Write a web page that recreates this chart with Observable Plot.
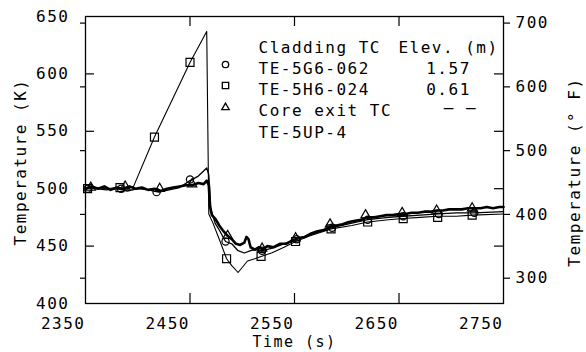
<!DOCTYPE html>
<html><head><meta charset="utf-8">
<script src="https://cdn.jsdelivr.net/npm/d3@7"></script>
<script src="https://cdn.jsdelivr.net/npm/@observablehq/plot@0.6"></script>
<style>
html,body{margin:0;padding:0;background:#fff;}
#chart svg{display:block;}
</style></head><body><div id="chart"></div>
<script>
// ---- data ----
// Core exit TC TE-5UP-4 (triangles) — dense, noisy trace
const coreTime = [2350,2356,2362,2368,2374,2380,2386,2392,2398,2404,2410,2416,2422,2428,2434,2440,2446,2452,2458,2463,2466,2468,2469,2471,2474,2478,2482,2486,2490,2494,2498,2502,2504,2506,2508,2512,2516,2520,2524,2530,2536,2542,2548,2554,2560,2566,2572,2578,2584,2590,2596,2602,2608,2614,2620,2626,2632,2638,2644,2650,2656,2662,2668,2674,2680,2686,2692,2698,2704,2710,2716,2722,2728,2734,2740,2746,2750];
const coreTemp = [500,502,500,502,499,501,500,502,500,501,499,500,498,500,501,502,503,503,505,504,507,503,485,477,474,468,463,459,456,452,451,453,458,456,449,447,449,447,450,449,452,452,455,457,458,461,463,464,467,468,469,471,472,473,475,475,476,477,477,478,478,479,479,480,480,481,481,482,482,482,483,483,483,484,483,484,484];
// Cladding TC TE-5G6-062, 1.57 m (circles)
const g6Time = [2350,2360,2370,2380,2390,2400,2410,2420,2430,2440,2450,2458,2466,2468,2470,2474,2478,2484,2490,2496,2502,2508,2514,2519,2528,2540,2552,2565,2586,2605,2620,2640,2654,2670,2688,2705,2722,2750];
const g6Temp = [501,500,499,500,498,500,499,497,499,501,507,511,518,512,482,470,464,454,452,446,444,446,447,446,448,452,456,460,466,470,473,475,476,477,478,479,479,480];
// Cladding TC TE-5H6-024, 0.61 m (squares)
const h6Time = [2350,2360,2370,2380,2390,2396,2416,2450,2466,2468,2472,2478,2485,2490,2496,2505,2512,2518,2528,2540,2551,2565,2585,2605,2620,2640,2654,2670,2687,2705,2720,2750];
const h6Temp = [500,501,500,501,500,502,545,610,637,478,470,456,439,433,427,437,439,441,444,449,454,459,465,468,471,473,474,475,476,476,477,478];
// marker positions
const g6MarkT = [2352,2384,2418,2450,2484,2519,2552,2586,2620,2654,2688,2722];
const g6MarkV = [500,500,497,508,454,446,456,466,473,476,478,479];
const h6MarkT = [2352,2383,2416,2450,2485,2518,2551,2585,2620,2654,2687,2720];
const h6MarkV = [500,501,545,610,439,441,454,465,471,474,475,477];
const coreMarkT = [2355,2388,2421,2452,2486,2519,2551,2584,2618,2653,2686,2720];
const coreMarkV = [501,502,500,504,459,448,457,469,477,479,481,483];
// axes
const xLabels = [2350,2450,2550,2650,2750];
const xInnerTicks = [2450,2550,2650];
const kLabels = [400,450,500,550,600,650];
const kInnerTicks = [450,500,550,600];
const fLabels = [300,400,500,600,700];
// legend
const legendNames = ["Cladding TC","TE-5G6-062","TE-5H6-024","Core exit TC","TE-5UP-4"];
const legendElev = ["Elev. (m)","1.57","0.61"];
const legendSymbols = ["circle","square","triangle"];

const toK = f => (f + 459.67) * 5 / 9;
const toF = k => Math.round(k * 9 / 5 - 459.67);
const zip = (t, v) => t.map((d, i) => ({t: d, v: v[i]}));

const core = zip(coreTime, coreTemp), g6 = zip(g6Time, g6Temp), h6 = zip(h6Time, h6Temp);
const g6M = zip(g6MarkT, g6MarkV), h6M = zip(h6MarkT, h6MarkV), coreM = zip(coreMarkT, coreMarkV);

const font = "DejaVu Sans Mono";
const legendDy = [48, 69, 91];
const W = 586, H = 352, ML = 85, MR = 83, MT = 16, MB = 49;
const fw = W - ML - MR, fh = H - MT - MB;
const tickIn = 9, tickInX = 10;

const chart = Plot.plot({
  width: W, height: H,
  marginLeft: ML, marginRight: MR, marginTop: MT, marginBottom: MB,
  style: {fontFamily: font, fontSize: "16px", letterSpacing: "1.5px", color: "black", background: "white", overflow: "visible"},
  x: {domain: [2350, 2750]},
  y: {domain: [400, 650]},
  marks: [
    Plot.frame({stroke: "black", strokeWidth: 1.3}),
    // inward K ticks on both sides
    Plot.tickY(kInnerTicks, {y: d => d, insetRight: fw - tickIn, stroke: "black", strokeWidth: 1.2}),
    Plot.tickY(kInnerTicks, {y: d => d, insetLeft: fw - tickIn, stroke: "black", strokeWidth: 1.2}),
    // inward time ticks top & bottom
    Plot.tickX(xInnerTicks, {x: d => d, insetBottom: fh - tickInX, stroke: "black", strokeWidth: 1.2}),
    Plot.tickX(xInnerTicks, {x: d => d, insetTop: fh - tickInX, stroke: "black", strokeWidth: 1.2}),
    // outward F ticks
    Plot.axisY(fLabels.map(toK), {anchor: "left", tickSize: 5, tickFormat: () => "", label: null, strokeWidth: 1.2}),
    Plot.axisY(fLabels.map(toK), {anchor: "right", tickSize: 6, tickPadding: 6, tickFormat: toF, label: null, strokeWidth: 1.2}),
    Plot.axisY(kLabels, {anchor: "left", tickSize: 0, tickPadding: 16, label: null}),
    Plot.axisX(xLabels, {anchor: "bottom", tickSize: 0, tickPadding: 14, textAnchor: "end", tickFormat: d => String(d), label: null}),
    // titles
    Plot.text(["Time (s)"], {frameAnchor: "bottom", dy: 39, lineAnchor: "middle", textAnchor: "middle", fontSize: 15}),
    Plot.text(["Temperature (K)"], {frameAnchor: "left", rotate: -90, dx: -65, dy: 2, textAnchor: "middle", lineAnchor: "middle"}),
    Plot.text(["Temperature (° F)"], {frameAnchor: "right", rotate: -90, dx: 71, dy: 12, textAnchor: "middle", lineAnchor: "middle"}),
    // data lines
    Plot.line(h6, {x: "t", y: "v", stroke: "black", strokeWidth: 1.1}),
    Plot.line(g6, {x: "t", y: "v", stroke: "black", strokeWidth: 1.3}),
    Plot.line(core, {x: "t", y: "v", stroke: "black", strokeWidth: 2.6}),
    Plot.dot(h6M, {x: "t", y: "v", symbol: "square", r: 4.5, stroke: "black", strokeWidth: 1.2, fill: "none"}),
    Plot.dot(g6M, {x: "t", y: "v", symbol: "circle", r: 3.6, stroke: "black", strokeWidth: 1.2, fill: "none"}),
    Plot.dot(coreM, {x: "t", y: "v", symbol: "triangle", r: 3.5, stroke: "black", strokeWidth: 1.2, fill: "none"}),
    // legend
    Plot.text([legendNames.join("\n")], {frameAnchor: "top-left", dx: 173, dy: 21, lineAnchor: "top", lineHeight: 1.33, textAnchor: "start"}),
    Plot.text([legendElev.join("\n")], {frameAnchor: "top-left", dx: 363, dy: 21, lineAnchor: "top", lineHeight: 1.33, textAnchor: "middle"}),
    Plot.text(["– –"], {frameAnchor: "top-left", dx: 375, dy: 91, textAnchor: "middle", lineAnchor: "middle"}),
    ...legendSymbols.map((s, i) => Plot.dot([s], {x: null, y: null, frameAnchor: "top-left", dx: 140, dy: legendDy[i], symbol: s, r: s === "triangle" ? 2.8 : s === "circle" ? 3.2 : 3.6, stroke: "black", strokeWidth: 1.3, fill: "none"}))
  ]
});
document.getElementById("chart").appendChild(chart);
</script>
</body></html>
